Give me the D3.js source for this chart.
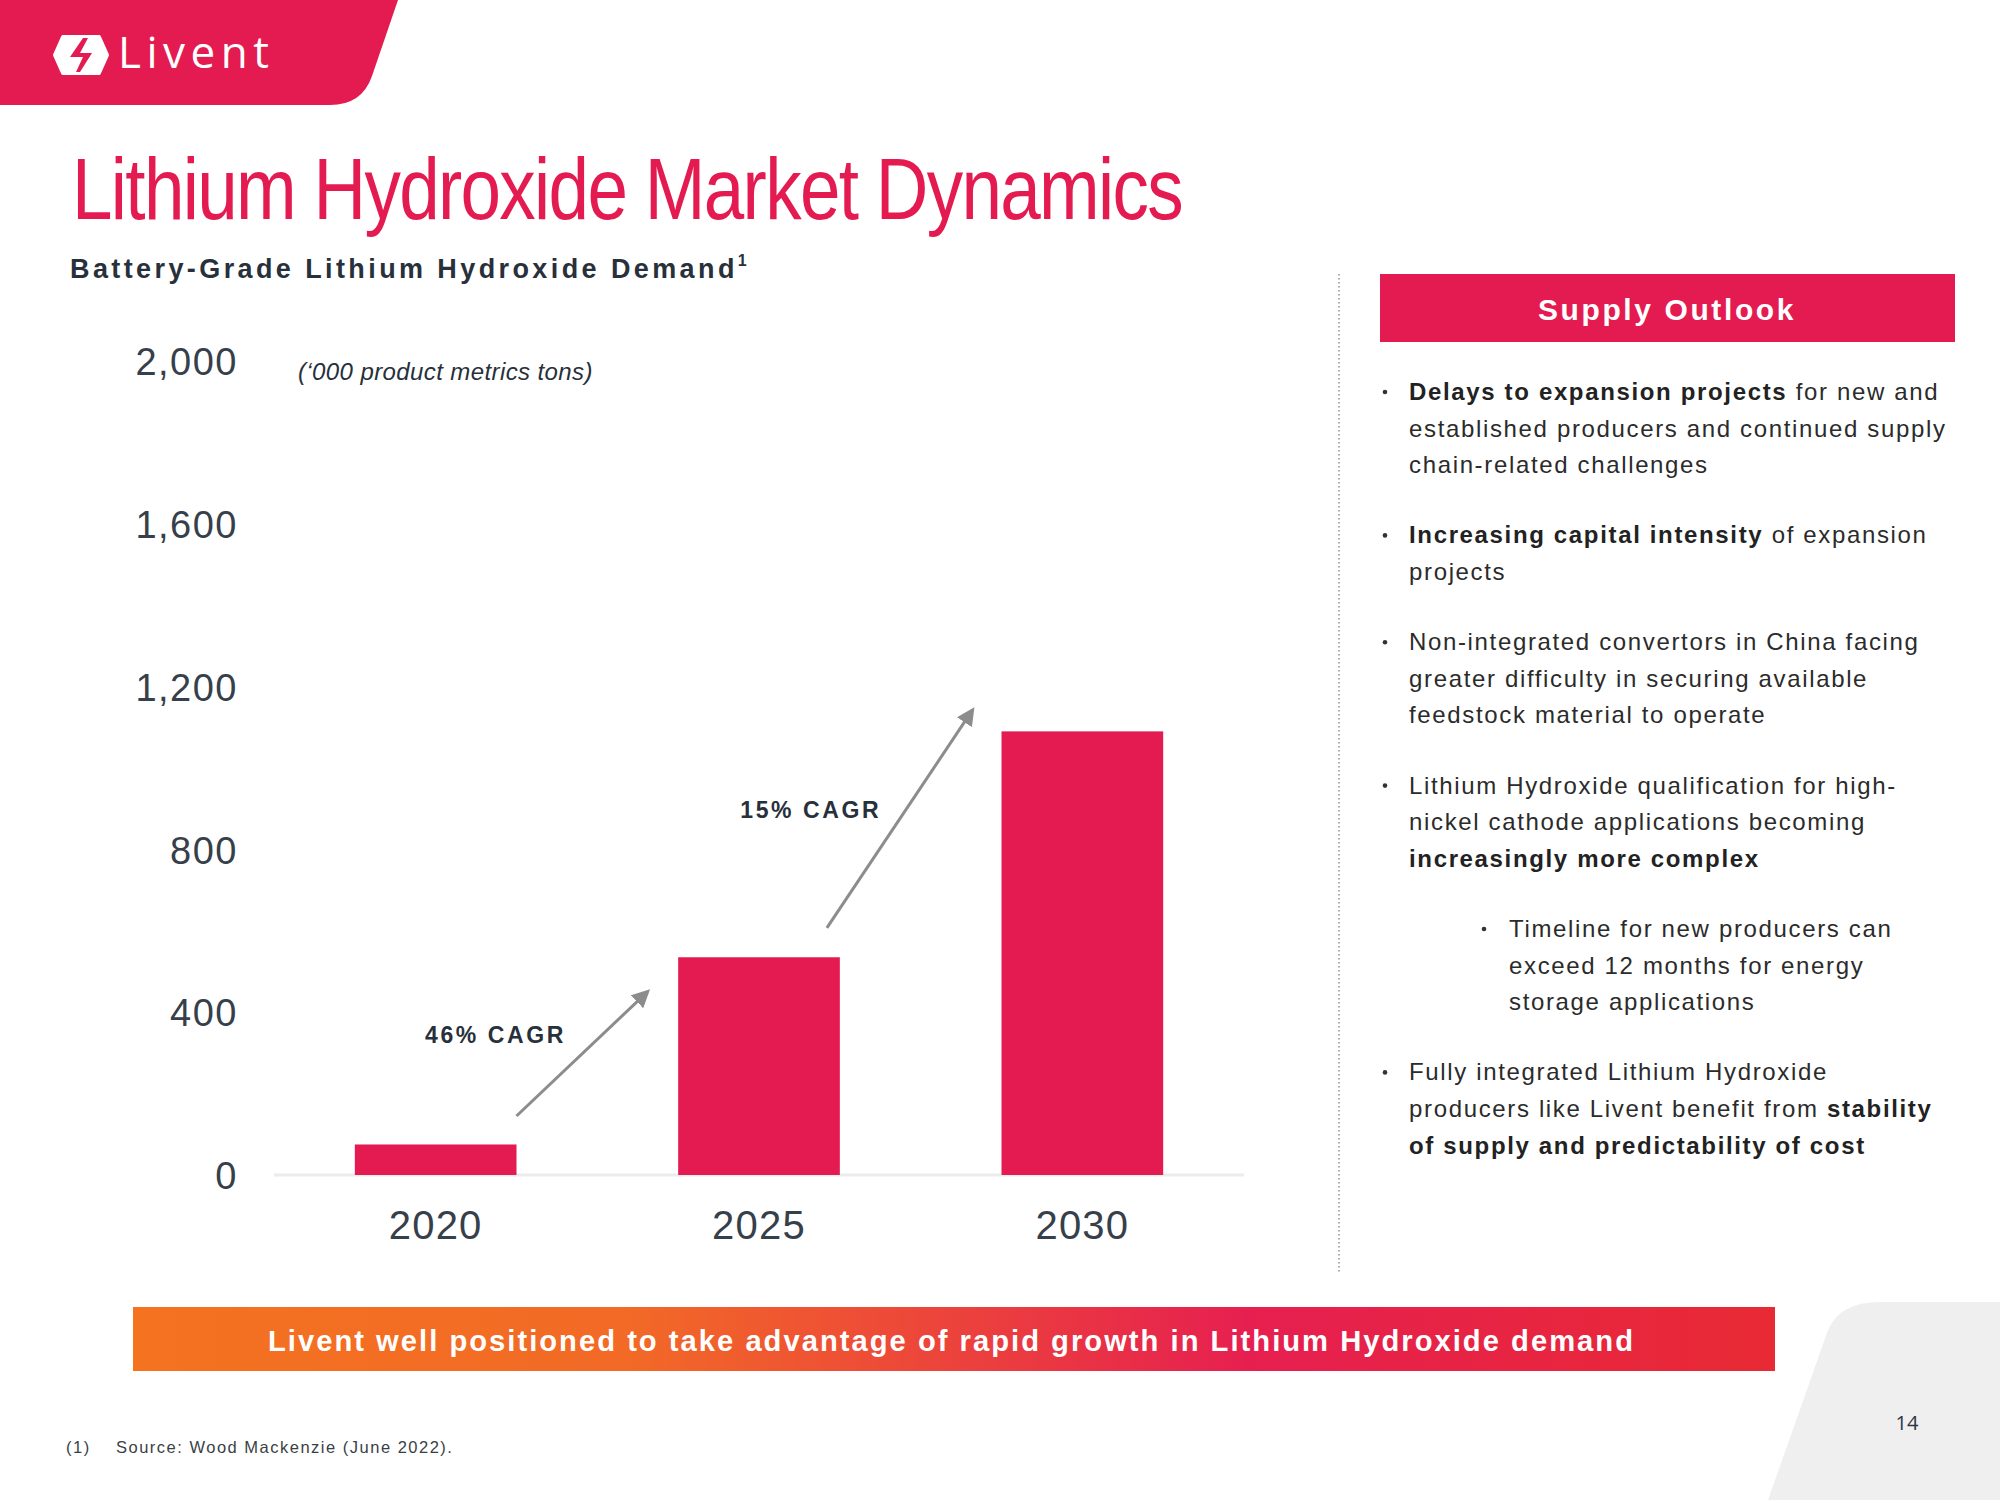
<!DOCTYPE html>
<html>
<head>
<meta charset="utf-8">
<script src="https://cdn.jsdelivr.net/npm/d3@7"></script>
<style>
  body { margin: 0; background: #fff; }
  svg { display: block; }
  text { font-family: "Liberation Sans", Arial, sans-serif; }
</style>
</head>
<body>
<svg id="slide" width="2000" height="1500"></svg>
<script>
// chart data
var years = ["2020", "2025", "2030"];
var demand = [75, 535, 1090];
var yTicks = [0, 400, 800, 1200, 1600, 2000];

// CAGR arrows: from/to given as [year, fraction of bar width, value]
var cagrLabels = ["46% CAGR", "15% CAGR"];
var cagrFrom = [["2020", 1.0, 145], ["2025", 0.92, 607]];
var cagrTo = [["2025", -0.19, 450], ["2030", -0.18, 1142]];
var cagrText = [["2020", 0.87, 325], ["2025", 0.82, 878]];

var bullets = [
  [0, ["**Delays to expansion projects** for new and", "established producers and continued supply", "chain-related challenges"]],
  [0, ["**Increasing capital intensity** of expansion", "projects"]],
  [0, ["Non-integrated convertors in China facing", "greater difficulty in securing available", "feedstock material to operate"]],
  [0, ["Lithium Hydroxide qualification for high-", "nickel cathode applications becoming", "**increasingly more complex**"]],
  [1, ["Timeline for new producers can", "exceed 12 months for energy", "storage applications"]],
  [0, ["Fully integrated Lithium Hydroxide", "producers like Livent benefit from **stability**", "**of supply and predictability of cost**"]]
];

var red = "#e41b50", ink = "#27303b";
var svg = d3.select("#slide");

// ---- header tab + logo
svg.append("path")
   .attr("d", "M0,0 L398,0 L372,76 Q362,105 330,105 L0,105 Z")
   .attr("fill", red);
svg.append("path")
   .attr("d", "M63,37 L99,37 L107,55 L99,73 L63,73 L55,55 Z")
   .attr("fill", "#fff").attr("stroke", "#fff")
   .attr("stroke-width", 4).attr("stroke-linejoin", "round");
svg.append("path")
   .attr("d", "M83,38 L70,57 L83,57 L76,72 L80,72 L92,53 L80,53 L88,38 Z")
   .attr("fill", red);
svg.append("text")
   .attr("x", 118).attr("y", 68)
   .style("font-family", "'Open Sans', sans-serif")
   .style("font-size", "44px").style("letter-spacing", "5.5px")
   .attr("fill", "#fff").text("Livent");

// ---- titles
svg.append("text")
   .attr("x", 72).attr("y", 219)
   .attr("textLength", 1110).attr("lengthAdjust", "spacingAndGlyphs")
   .style("font-family", "'Liberation Sans Narrow', 'Liberation Sans', sans-serif")
   .style("font-size", "88px").style("letter-spacing", "-2px")
   .attr("fill", red).text("Lithium Hydroxide Market Dynamics");

var sub = svg.append("text")
   .attr("x", 70).attr("y", 278)
   .style("font-size", "27px").style("font-weight", "bold")
   .style("letter-spacing", "3.4px").attr("fill", ink);
sub.append("tspan").text("Battery-Grade Lithium Hydroxide Demand");
sub.append("tspan").attr("dy", -12).style("font-size", "16px").style("letter-spacing", "0").text("1");

svg.append("text")
   .attr("x", 298).attr("y", 380)
   .style("font-size", "24px").style("font-style", "italic").style("letter-spacing", "0.4px")
   .attr("fill", ink).text("(\u2018000 product metrics tons)");

// ---- bar chart
var x = d3.scaleBand().domain(years).range([274, 1244]).paddingInner(0.5).paddingOuter(0.25);
var y = d3.scaleLinear().domain([0, 2000]).range([1175, 361]);

svg.append("line")
   .attr("x1", 274).attr("x2", 1244)
   .attr("y1", y(0)).attr("y2", y(0))
   .attr("stroke", "#ececec").attr("stroke-width", 3);

svg.selectAll("rect.bar")
   .data(years)
   .enter().append("rect")
   .attr("class", "bar")
   .attr("x", function(d) { return x(d); })
   .attr("width", x.bandwidth())
   .attr("y", function(d, i) { return y(demand[i]); })
   .attr("height", function(d, i) { return y(0) - y(demand[i]); })
   .attr("fill", red);

var yAxis = svg.append("g")
   .attr("transform", "translate(238,0)")
   .call(d3.axisLeft(y).tickValues(yTicks).tickSize(0).tickPadding(0).tickFormat(d3.format(",")));
yAxis.select(".domain").remove();
yAxis.selectAll("text")
   .style("font-family", "'Liberation Sans', sans-serif")
   .style("font-size", "38px").style("letter-spacing", "1.5px")
   .attr("dy", "0.36em")
   .attr("fill", "#363f4a");

var xAxis = svg.append("g")
   .attr("transform", "translate(0," + y(0) + ")")
   .call(d3.axisBottom(x).tickSize(0).tickPadding(36));
xAxis.select(".domain").remove();
xAxis.selectAll("text")
   .style("font-family", "'Liberation Sans', sans-serif")
   .style("font-size", "40px").style("letter-spacing", "1.2px")
   .attr("fill", "#363f4a");

// CAGR arrows
var defs = svg.append("defs");
defs.append("marker")
   .attr("id", "arrowHead")
   .attr("viewBox", "0 0 10 10").attr("refX", 8).attr("refY", 5)
   .attr("markerWidth", 6).attr("markerHeight", 6)
   .attr("orient", "auto")
   .append("path").attr("d", "M0,0 L10,5 L0,10 Z").attr("fill", "#8c8c8c");

function px(p) { return x(p[0]) + p[1] * x.bandwidth(); }

svg.selectAll("line.cagr")
   .data(cagrLabels)
   .enter().append("line")
   .attr("class", "cagr")
   .attr("x1", function(d, i) { return px(cagrFrom[i]); })
   .attr("y1", function(d, i) { return y(cagrFrom[i][2]); })
   .attr("x2", function(d, i) { return px(cagrTo[i]); })
   .attr("y2", function(d, i) { return y(cagrTo[i][2]); })
   .attr("stroke", "#8c8c8c").attr("stroke-width", 3)
   .attr("marker-end", "url(#arrowHead)");

svg.selectAll("text.cagr")
   .data(cagrLabels)
   .enter().append("text")
   .attr("class", "cagr")
   .attr("x", function(d, i) { return px(cagrText[i]); })
   .attr("y", function(d, i) { return y(cagrText[i][2]); })
   .attr("text-anchor", "middle")
   .style("font-size", "23px").style("font-weight", "bold").style("letter-spacing", "2.6px")
   .attr("fill", ink)
   .text(function(d) { return d; });

// ---- divider
svg.append("line")
   .attr("x1", 1339).attr("x2", 1339).attr("y1", 274).attr("y2", 1272)
   .attr("stroke", "#777").attr("stroke-width", 1.2).attr("stroke-dasharray", "1.5,2.5");

// ---- supply outlook panel
svg.append("rect")
   .attr("x", 1380).attr("y", 274).attr("width", 575).attr("height", 68)
   .attr("fill", red);
svg.append("text")
   .attr("x", 1667).attr("y", 320).attr("text-anchor", "middle")
   .style("font-size", "30px").style("font-weight", "bold").style("letter-spacing", "2.6px")
   .attr("fill", "#fff").text("Supply Outlook");

var lineY = 400;
bullets.forEach(function(b) {
  var level = b[0], lines = b[1];
  var tx = level ? 1509 : 1409;
  svg.append("circle")
     .attr("cx", level ? 1484 : 1385).attr("cy", lineY - 8).attr("r", 2.3)
     .attr("fill", "#333");
  lines.forEach(function(ln) {
    var t = svg.append("text")
       .attr("x", tx).attr("y", lineY)
       .style("font-size", "24px").style("letter-spacing", "1.65px")
       .attr("fill", "#2b2b2b");
    ln.split("**").forEach(function(part, k) {
      if (!part) return;
      t.append("tspan")
       .style("font-weight", k % 2 ? "bold" : "normal")
       .attr("fill", k % 2 ? "#222" : "#2b2b2b")
       .text(part);
    });
    lineY += 36.6;
  });
  lineY += 33.6;
});

// ---- bottom banner
var grad = defs.append("linearGradient").attr("id", "bannerGrad");
grad.append("stop").attr("offset", "0%").attr("stop-color", "#f47220");
grad.append("stop").attr("offset", "30%").attr("stop-color", "#f26a26");
grad.append("stop").attr("offset", "68%").attr("stop-color", "#e61f50");
grad.append("stop").attr("offset", "100%").attr("stop-color", "#e82a34");
svg.append("rect")
   .attr("x", 133).attr("y", 1307).attr("width", 1642).attr("height", 64)
   .attr("fill", "url(#bannerGrad)");
svg.append("text")
   .attr("x", 268).attr("y", 1351)
   .attr("textLength", 1367).attr("lengthAdjust", "spacingAndGlyphs")
   .style("font-size", "29px").style("font-weight", "bold").style("letter-spacing", "2px")
   .attr("fill", "#fff")
   .text("Livent well positioned to take advantage of rapid growth in Lithium Hydroxide demand");

// ---- page corner + number
svg.append("path")
   .attr("d", "M1768,1500 L1828,1330 Q1840,1302 1880,1302 L2000,1302 L2000,1500 Z")
   .attr("fill", "#efefef");
svg.append("text")
   .attr("x", 1907).attr("y", 1430).attr("text-anchor", "middle")
   .style("font-family", "'Open Sans', sans-serif").style("font-size", "20px")
   .attr("fill", "#2d3540").text("14");

// ---- footnote
svg.append("text").attr("x", 66).attr("y", 1453)
   .style("font-size", "16.5px").style("letter-spacing", "1.5px").attr("fill", "#3a3f45").text("(1)");
svg.append("text").attr("x", 116).attr("y", 1453)
   .style("font-size", "16.5px").style("letter-spacing", "1.5px").attr("fill", "#3a3f45")
   .text("Source: Wood Mackenzie (June 2022).");
</script>
</body>
</html>
